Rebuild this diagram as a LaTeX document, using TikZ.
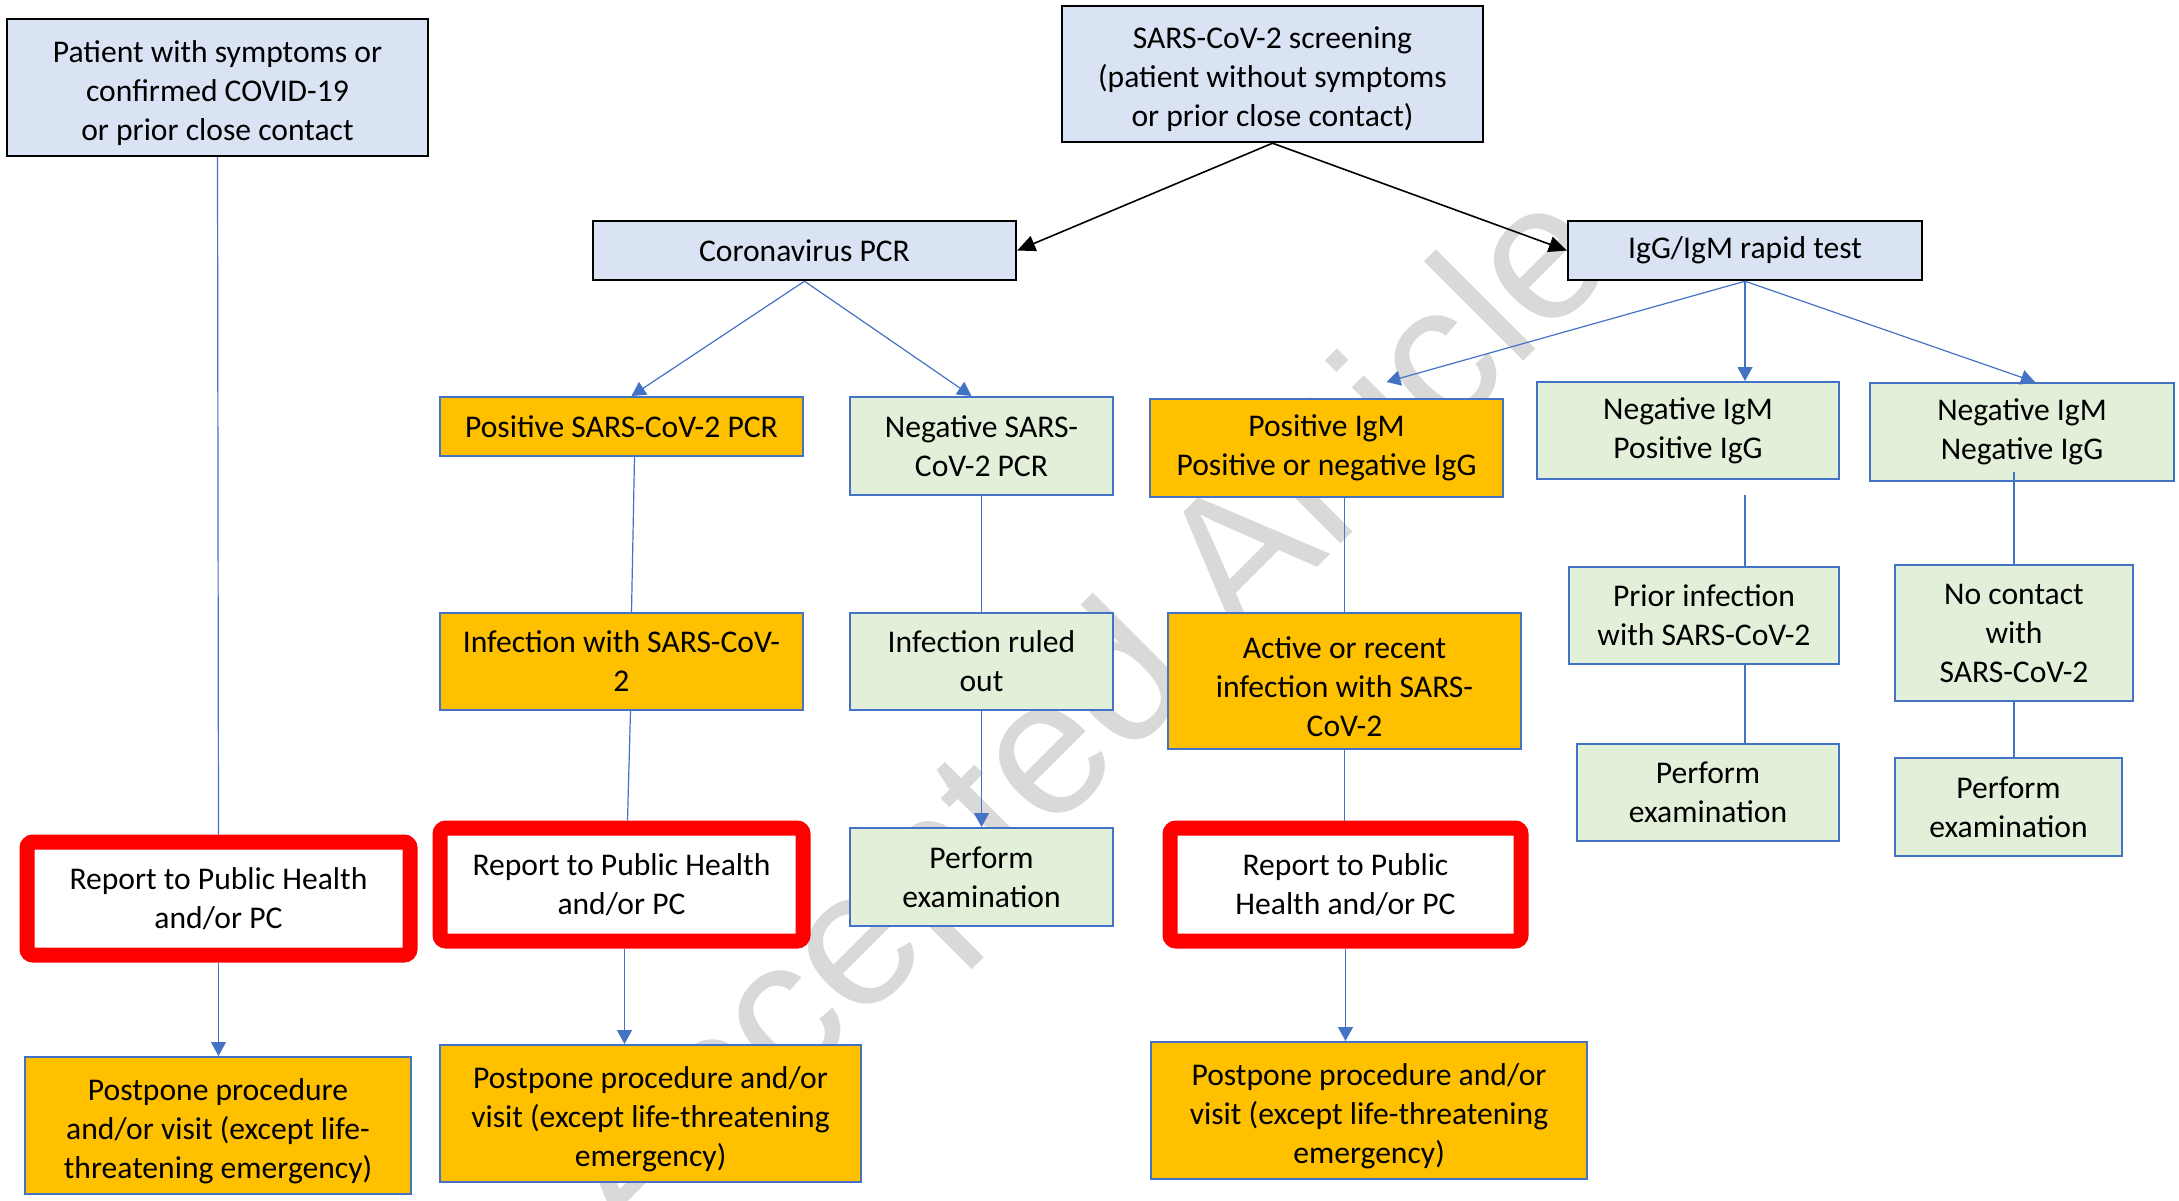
\documentclass[tikz,border=0pt]{standalone}
\usepackage{fontspec}
\setmainfont{Carlito}
\newfontfamily\wmfont{Liberation Sans}
\usepackage{tikz}
\usetikzlibrary{arrows.meta}

\definecolor{boxblue}{HTML}{DAE3F3}
\definecolor{boxorange}{HTML}{FFC000}
\definecolor{boxgreen}{HTML}{E2F0D9}
\definecolor{lineblue}{HTML}{4472C4}
\definecolor{wmgray}{HTML}{D9D9D9}

\newcommand{\topgap}{\rule{0pt}{16.5pt}}

\begin{document}
\begin{tikzpicture}[%
		x=0.5pt,y=-0.5pt,
		every node/.style={font=\fontsize{15.8}{19.5}\selectfont, align=center, inner sep=0pt},
		start/.style={draw=black, line width=1.2pt, fill=boxblue},
		positive/.style={draw=lineblue, line width=1pt, fill=boxorange},
		negative/.style={draw=lineblue, line width=1pt, fill=boxgreen},
		report/.style={draw=red, line width=7.5pt, fill=white, rounded corners=3pt},
		blk/.style={draw=black, line width=0.8pt, -{Triangle[width=8pt,length=9pt]}},
		conn/.style={draw=lineblue, line width=0.6pt},
		arr/.style={conn, -{Triangle[width=7.5pt,length=7pt]}}]
	\path[use as bounding box, fill=white] (0,0) rectangle (2179,1200);
	\node[text=wmgray, font=\wmfont\fontsize{97}{97}\selectfont, rotate=45] (wm) at (1090,724) {Accepted Article};

	\node[start, minimum width=210.5pt, minimum height=68.5pt] (patient) at (217.5,87.5) {\topgap Patient with symptoms or\\confirmed COVID-19\\or prior close contact};
	\node[start, minimum width=210.5pt, minimum height=68pt] (screen) at (1272.5,74) {\topgap SARS-CoV-2 screening\\(patient without symptoms\\or prior close contact)};
	\node[start, minimum width=211.5pt, minimum height=29.5pt] (pcr) at (804.5,250.5) {Coronavirus PCR};
	\node[start, minimum width=177pt, minimum height=29.5pt] (igg) at (1745,250.5) {IgG/IgM rapid test};

	\node[positive, minimum width=181.5pt, minimum height=29.5pt] (pospcr) at (621.5,426.5) {Positive SARS-CoV-2 PCR};
	\node[negative, minimum width=131.5pt, minimum height=49pt] (negpcr) at (981.5,446) {Negative SARS-\\CoV-2 PCR};
	\node[positive, minimum width=176.5pt, minimum height=49pt] (posigm) at (1326.5,448) {Positive IgM\\Positive or negative IgG};
	\node[negative, minimum width=151pt, minimum height=48.5pt] (negpos) at (1688,430.5) {Negative IgM\\Positive IgG};
	\node[negative, minimum width=152pt, minimum height=49pt] (negneg) at (2022,432) {Negative IgM\\Negative IgG};

	\node[positive, minimum width=181.5pt, minimum height=48.5pt] (infpcr) at (621.5,661.5) {Infection with SARS-CoV-\\2};
	\node[negative, minimum width=131.5pt, minimum height=48.5pt] (ruled) at (981.5,661.5) {Infection ruled\\out};
	\node[positive, minimum width=176.5pt, minimum height=68pt] (active) at (1344.5,681) {\topgap Active or recent\\infection with SARS-\\CoV-2};
	\node[negative, minimum width=135pt, minimum height=48.5pt] (prior) at (1704,615.5) {Prior infection\\with SARS-CoV-2};
	\node[negative, minimum width=119pt, minimum height=68pt] (nocont) at (2014,633) {No contact\\with\\SARS-CoV-2};

	\node[negative, minimum width=131.5pt, minimum height=49pt] (exam1) at (981.5,877) {Perform\\examination};
	\node[negative, minimum width=131pt, minimum height=48.5pt] (exam2) at (1708,792.5) {Perform\\examination};
	\node[negative, minimum width=113.5pt, minimum height=49pt] (exam3) at (2008.5,807) {Perform\\examination};

	\node[report, minimum width=191.5pt, minimum height=56.5pt] (rep1) at (218.5,898.5) {Report to Public Health\\and/or PC};
	\node[report, minimum width=181.5pt, minimum height=56.5pt] (rep2) at (621.5,884.5) {Report to Public Health\\and/or PC};
	\node[report, minimum width=175.5pt, minimum height=56.5pt] (rep3) at (1345.5,884.5) {Report to Public\\Health and/or PC};

	\node[positive, minimum width=193pt, minimum height=68.5pt] (post1) at (218,1125.5) {\topgap Postpone procedure\\and/or visit (except life-\\threatening emergency)};
	\node[positive, minimum width=210.5pt, minimum height=68.5pt] (post2) at (650.5,1113.5) {\topgap Postpone procedure and/or\\visit (except life-threatening\\emergency)};
	\node[positive, minimum width=218pt, minimum height=68.5pt] (post3) at (1369,1110.5) {\topgap Postpone procedure and/or\\visit (except life-threatening\\emergency)};

	\draw[blk] (screen.south) -- (pcr.east);
	\draw[blk] (screen.south) -- (igg.west);
	\draw[arr] (pcr.south) -- ([xshift=5pt]pospcr.north);
	\draw[arr] (pcr.south) -- ([xshift=-5pt]negpcr.north);
	\draw[arr] (igg.south) -- ([xshift=30pt,yshift=8pt]posigm.north);
	\draw[arr] (igg.south) -- (igg.south |- negpos.north);
	\draw[arr] (igg.south) -- ([xshift=6.5pt]negneg.north);

	\draw[conn] (patient.south) -- (rep1.north);
	\draw[arr] (rep1.south) -- (rep1.south |- post1.north);
	\draw[conn] ([xshift=6.5pt]pospcr.south) -- ([xshift=5pt]infpcr.north);
	\draw[conn] ([xshift=4.5pt]infpcr.south) -- ([xshift=3pt]rep2.north);
	\draw[arr] ([xshift=1.5pt]rep2.south) -- ([xshift=1.5pt]rep2.south |- post2.north);
	\draw[conn] (negpcr.south) -- (ruled.north);
	\draw[arr] (ruled.south) -- (exam1.north);
	\draw[conn] (active.north |- posigm.south) -- (active.north);
	\draw[conn] (active.south) -- (active.south |- rep3.north);
	\draw[arr] (rep3.south) -- (rep3.south |- post3.north);
	\draw[conn] ([yshift=-7.5pt]igg.south |- negpos.south) -- (igg.south |- prior.north);
	\draw[conn] (igg.south |- prior.south) -- (igg.south |- exam2.north);
	\draw[conn] ([yshift=5pt]nocont.north |- negneg.south) -- (nocont.north);
	\draw[conn] (nocont.south) -- (nocont.south |- exam3.north);
\end{tikzpicture}
\end{document}
